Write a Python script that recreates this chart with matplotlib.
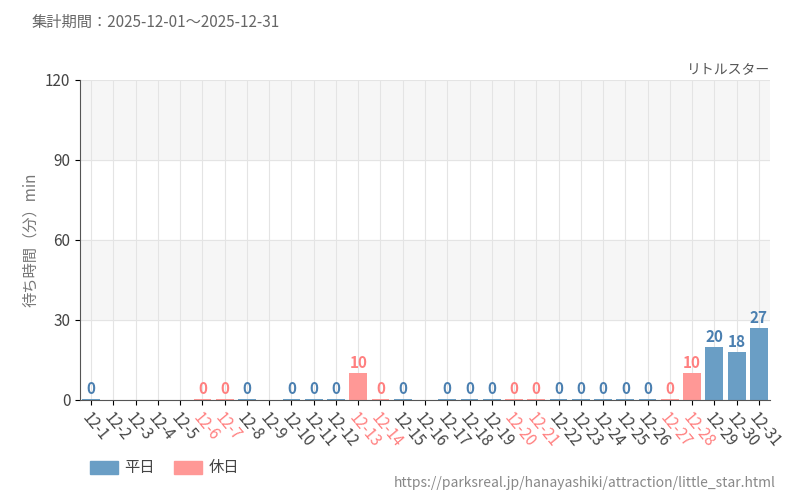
import matplotlib.pyplot as plt
import numpy as np

plt.rcParams["font.family"] = ["Noto Sans CJK JP", "DejaVu Sans"]

days = [f"12-{d}" for d in range(1, 32)]
# None = no data for that day
waits = [0, None, None, None, None, 0, 0, 0, None, 0, 0, 0, 10, 0, 0, None,
         0, 0, 0, 0, 0, 0, 0, 0, 0, 0, 0, 10, 20, 18, 27]
holidays = [6, 7, 13, 14, 20, 21, 27, 28]

BLUE = "#6a9ec5"
BLUE_TXT = "#4a7fb0"
RED = "#ff9896"
RED_TXT = "#ff7f7f"

fig = plt.figure(figsize=(8, 5), dpi=100)
ax = fig.add_axes([0.1, 0.2, 0.8625, 0.64])
ax.set_xlim(-0.5, 30.5)
ax.set_ylim(0, 120)
for lo in (30, 90):
    ax.axhspan(lo, lo + 30, color="#f6f6f6", zorder=0)
ax.set_yticks([0, 30, 60, 90, 120])
ax.grid(True, color="#e4e4e4", lw=0.8, zorder=1)
ax.set_axisbelow(True)

x = np.arange(len(days))
for i, v in enumerate(waits):
    if v is None:
        continue
    hol = (i + 1) in holidays
    h = v if v > 0 else 0.4
    ax.bar(i, h, width=0.8, color=RED if hol else BLUE, zorder=2)
    ax.text(i, h + 0.8, str(v), ha="center", va="bottom", fontsize=11,
            fontweight="bold", color=RED_TXT if hol else BLUE_TXT, fontstretch="condensed")

ax.set_xticks(x)
ax.set_xticklabels(days, rotation=-50, ha="left", rotation_mode="anchor", fontsize=11)
for i, lab in enumerate(ax.get_xticklabels()):
    lab.set_color(RED_TXT if (i + 1) in holidays else "#444444")
ax.tick_params(axis="y", labelsize=11, labelcolor="#444444")
for s in ("top", "right"):
    ax.spines[s].set_visible(False)
for s in ("left", "bottom"):
    ax.spines[s].set_color("#555555")
ax.set_ylabel("待ち時間（分）min", color="#777777", fontsize=11)

fig.text(0.04, 0.955, "集計期間：2025-12-01～2025-12-31", fontsize=11, color="#666666", va="center")
fig.text(0.9625, 0.862, "リトルスター", fontsize=10, color="#555555", ha="right", va="center")
fig.text(0.97, 0.035, "https://parksreal.jp/hanayashiki/attraction/little_star.html",
         fontsize=10, color="#888888", ha="right", va="center")

fig.patches.append(plt.Rectangle((0.112, 0.052), 0.035, 0.026, color=BLUE, transform=fig.transFigure))
fig.text(0.155, 0.065, "平日", fontsize=11, color="#444444", va="center")
fig.patches.append(plt.Rectangle((0.218, 0.052), 0.035, 0.026, color=RED, transform=fig.transFigure))
fig.text(0.261, 0.065, "休日", fontsize=11, color="#444444", va="center")

fig.savefig("out.png")
